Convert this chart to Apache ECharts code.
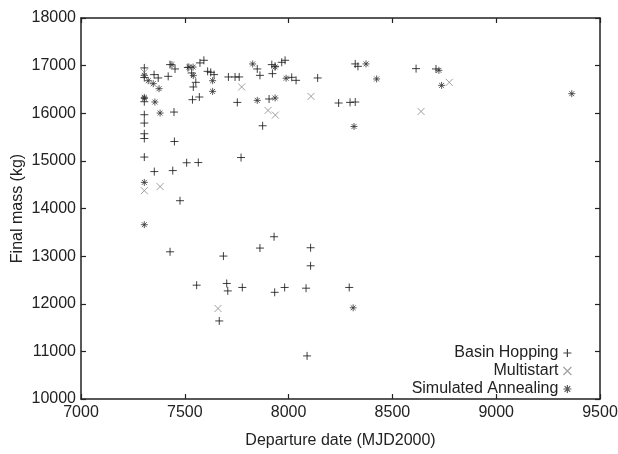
<!DOCTYPE html>
<html>
<head>
<meta charset="utf-8">
<script src="https://cdn.jsdelivr.net/npm/echarts@6/dist/echarts.min.js"></script>
<style>
html, body { margin: 0; padding: 0; background: #fff; }
#chart { width: 618px; height: 454px; }
</style>
</head>
<body>
<div id="chart"></div>
<script>
// departure date (MJD2000), final mass (kg)
var basinHopping = [
	[7305,16952],[7305,16750],[7305,16242],[7305,15969],[7305,15794],[7305,15569],[7305,15470],[7305,15080],
	[7352,16811],[7372,16741],[7420,16775],[7429,17021],[7453,16930],[7448,16025],[7450,15407],
	[7353,14775],[7442,14796],[7509,14960],[7565,14965],[7771,15070],[7477,14164],
	[7515,16960],[7533,16846],[7553,16649],[7541,16552],[7537,16285],[7570,16341],[7573,17057],[7592,17112],
	[7610,16880],[7625,16859],[7641,16811],[7710,16762],[7742,16762],[7762,16762],[7753,16228],
	[7849,16930],[7862,16796],[7919,17021],[7935,16985],[7922,16832],[7967,17070],[7983,17112],
	[8015,16754],[8036,16691],[8140,16741],[7906,16299],[7875,15737],[8321,17036],[8334,16985],
	[8241,16215],[8296,16228],[8321,16236],[8614,16937],[8710,16930],
	[7429,13091],[7686,13001],[7557,12390],[7702,12426],[7707,12270],[7777,12342],[7666,11639],
	[7862,13169],[7930,13407],[8106,13176],[8106,12797],[7933,12240],[7981,12342],[8084,12327],
	[8292,12342],[8089,10905]
];
var multistart = [
	[7305,16859],[7305,14375],[7381,14460],[7774,16552],[8108,16354],[7901,16059],[7936,15962],
	[8638,16038],[8774,16649],[7660,11900]
];
var simulatedAnnealing = [
	[7305,16796],[7305,16333],[7305,16310],[7324,16684],[7348,16621],[7376,16516],[7356,16236],[7381,16004],
	[7305,14548],[7305,13660],[7438,17021],[7520,16970],[7540,16970],[7541,16790],[7634,16684],[7634,16459],
	[7827,17035],[7935,16973],[7988,16735],[7849,16270],[7935,16320],[8373,17036],[8424,16720],[8315,15722],
	[8724,16901],[8737,16585],[9364,16411],[8311,11915]
];

var plusPath = 'path://M0,5L10,5M5,0L5,10';
var crossPath = 'path://M0,0L10,10M10,0L0,10';
var starPath = 'path://M0,5L10,5M5,0L5,10M1.5,1.5L8.5,8.5M8.5,1.5L1.5,8.5';

var font = 'Liberation Sans';
var names = ['Basin Hopping', 'Multistart', 'Simulated Annealing'];
var icons = [plusPath, crossPath, starPath];
var iconColors = ['#111', '#888', '#333'];
var legendTops = [340, 358, 376];

var chart = echarts.init(document.getElementById('chart'));

var legends = names.map(function(n, i){
	return {
		orient: 'vertical',
		right: 41,
		top: legendTops[i],
		align: 'right',
		itemWidth: 8,
		itemHeight: 8,
		itemGap: 4,
		itemStyle: { color: 'transparent', borderColor: iconColors[i], borderWidth: 1.2 },
		textStyle: { fontFamily: font, fontSize: 16, color: '#222' },
		data: [{ name: n, icon: icons[i] }]
	};
});

function plain(v){ return String(v); }

function axisBase(){
	return {
		type: 'value',
		axisLine: { show: true, lineStyle: { color: '#222', width: 1.5 } },
		axisTick: { show: true, inside: true, length: 5, lineStyle: { color: '#222', width: 1.2 } },
		splitLine: { show: false },
		axisLabel: { fontFamily: font, fontSize: 16, color: '#222', formatter: plain }
	};
}

var xBottom = axisBase();
xBottom.min = 7000; xBottom.max = 9500; xBottom.interval = 500;
xBottom.name = 'Departure date (MJD2000)';
xBottom.nameLocation = 'middle';
xBottom.nameGap = 34;
xBottom.nameMoveOverlap = false;
xBottom.nameTextStyle = { fontFamily: font, fontSize: 16, color: '#222' };
xBottom.axisLabel.margin = 6;

var xTop = axisBase();
xTop.min = 7000; xTop.max = 9500; xTop.interval = 500;
xTop.position = 'top';
xTop.axisLabel = { show: false };

var yLeft = axisBase();
yLeft.min = 10000; yLeft.max = 18000; yLeft.interval = 1000;
yLeft.name = 'Final mass (kg)';
yLeft.nameLocation = 'middle';
yLeft.nameGap = 55;
yLeft.nameMoveOverlap = false;
yLeft.nameTextStyle = { fontFamily: font, fontSize: 16, color: '#222' };
yLeft.axisLabel.margin = 5;

var yRight = axisBase();
yRight.min = 10000; yRight.max = 18000; yRight.interval = 1000;
yRight.position = 'right';
yRight.axisLabel = { show: false };

function scatter(name, data, icon, color, size){
	return {
		name: name,
		type: 'scatter',
		data: data,
		symbol: icon,
		symbolSize: size,
		itemStyle: { color: 'transparent', borderColor: color, borderWidth: 1 },
		emphasis: { disabled: true }
	};
}

chart.setOption({
	animation: false,
	grid: { left: 81, right: 18, top: 18, bottom: 55, containLabel: false, outerBoundsMode: 'none' },
	legend: legends,
	xAxis: [xBottom, xTop],
	yAxis: [yLeft, yRight],
	series: [
		scatter('Basin Hopping', basinHopping, plusPath, '#111', 8),
		scatter('Multistart', multistart, crossPath, '#888', 7),
		scatter('Simulated Annealing', simulatedAnnealing, starPath, '#333', 7)
	]
});
</script>
</body>
</html>
